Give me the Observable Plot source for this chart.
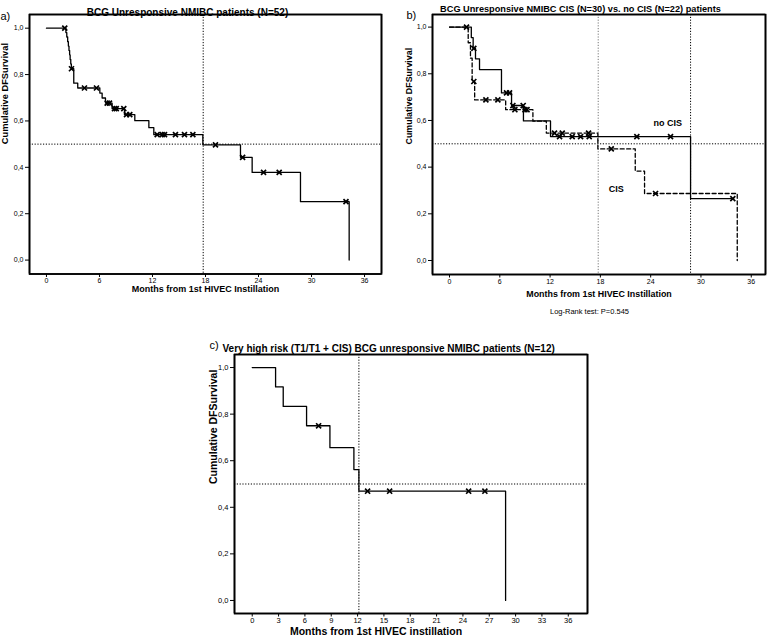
<!DOCTYPE html>
<html><head><meta charset="utf-8">
<script src="https://cdn.jsdelivr.net/npm/d3@7"></script>
<script src="https://cdn.jsdelivr.net/npm/@observablehq/plot@0.6"></script>
<style>
body{margin:0;background:#fff;font-family:"Liberation Sans",Arial,sans-serif;}
#root{position:relative;width:768px;height:640px;overflow:hidden;background:#fff;}
.holder{position:absolute;}
</style></head><body><div id="root"></div>
<script>
// ---------- data ----------
const yTicks = [0, 0.2, 0.4, 0.6, 0.8, 1.0];
const xTicksAB = [0, 6, 12, 18, 24, 30, 36];
const xTicksC = [0, 3, 6, 9, 12, 15, 18, 21, 24, 27, 30, 33, 36];
const refY = [0.5];

// Panel a: all patients (N=52)
const aTime = [0, 2.2, 2.3, 2.4, 2.48, 2.55, 2.62, 2.68, 2.75, 2.82, 3.09, 3.54, 6.04, 6.3, 6.68, 7.43, 8.83, 10.0, 11.59, 12.15, 17.7, 21.96, 23.28, 28.75, 34.26];
const aSurv = [1.0, 0.981, 0.962, 0.942, 0.923, 0.904, 0.885, 0.865, 0.846, 0.825, 0.763, 0.742, 0.72, 0.699, 0.677, 0.653, 0.627, 0.601, 0.571, 0.541, 0.497, 0.443, 0.378, 0.252, 0.0];
const aCensT = [2.07, 2.83, 4.3, 5.66, 6.87, 7.13, 7.7, 7.9, 8.75, 9.06, 9.43, 12.53, 13.1, 13.36, 14.6, 15.62, 16.57, 19.13, 22.2, 24.57, 26.34, 33.9];
const aCensS = [1.0, 0.825, 0.742, 0.742, 0.677, 0.677, 0.653, 0.653, 0.653, 0.627, 0.627, 0.541, 0.541, 0.541, 0.541, 0.541, 0.541, 0.497, 0.443, 0.378, 0.378, 0.252];
const aRefX = [17.74];

// Panel b: no CIS (solid, N=22)
const bNoTime = [0, 2.6, 2.82, 3.1, 3.58, 6.2, 7.4, 8.82, 12.05, 28.76, 33.9];
const bNoSurv = [1.0, 0.955, 0.909, 0.864, 0.818, 0.718, 0.664, 0.598, 0.531, 0.265, 0.265];
const bNoCensT = [2.03, 2.9, 6.8, 7.16, 7.56, 8.79, 13.13, 14.64, 15.64, 16.67, 22.35, 26.37, 33.8];
const bNoCensS = [1.0, 0.909, 0.718, 0.718, 0.664, 0.664, 0.531, 0.531, 0.531, 0.531, 0.531, 0.531, 0.265];
// Panel b: CIS (dashed, N=30)
const bCisTime = [0, 2.23, 2.5, 2.7, 3.0, 6.7, 9.95, 11.55, 17.7, 22.16, 23.27, 34.33];
const bCisSurv = [1.0, 0.933, 0.867, 0.767, 0.688, 0.646, 0.597, 0.546, 0.478, 0.383, 0.287, 0.0];
const bCisCensT = [2.9, 4.34, 5.77, 7.8, 9.0, 9.25, 12.53, 13.45, 16.59, 19.3, 24.58];
const bCisCensS = [0.767, 0.688, 0.688, 0.646, 0.646, 0.646, 0.546, 0.546, 0.546, 0.478, 0.287];
const bRefX = [17.74, 28.76];
const bLabelText = ["no CIS", "CIS"];
const bLabelT = [26.05, 19.9];
const bLabelS = [0.589, 0.304];

// Panel c: very high risk (N=12)
const cTime = [0, 2.66, 3.53, 6.19, 8.85, 11.58, 12.15, 28.86];
const cSurv = [1.0, 0.917, 0.833, 0.75, 0.656, 0.562, 0.469, 0.0];
const cCensT = [7.56, 13.14, 15.65, 24.65, 26.5];
const cCensS = [0.75, 0.469, 0.469, 0.469, 0.469];
const cRefX = [12.15];

// texts
const titles = ["BCG Unresponsive NMIBC patients (N=52)", "BCG Unresponsive NMIBC CIS (N=30) vs. no CIS (N=22) patients", "Very high risk (T1/T1 + CIS) BCG unresponsive NMIBC patients (N=12)"];
const tags = ["a)", "b)", "c)"];
const xLabels = ["Months from 1st HIVEC Instillation", "Months from 1st HIVEC Instillation", "Months from 1st HIVEC instillation"];
const yLabel = "Cumulative DFSurvival";
const logRank = "Log-Rank test: P=0.545";

// ---------- helpers ----------
const zip = (ts, ss) => ts.map((t, i) => ({t, s: ss[i]}));
const fmt = d => d.toFixed(1).replace(".", ",");
const root = document.getElementById("root");

function km(o) {
  const [x0, x1] = o.xDomain, [y0, y1] = o.yDomain;
  const fw = o.width - o.m[0] - o.m[1], fh = o.height - o.m[2] - o.m[3];
  const xTickLen = 3.5 * (y1 - y0) / fh;   // tick length (px) expressed in y units
  const yTickLen = 4 * (x1 - x0) / fw;     // tick length (px) expressed in x units
  const marks = [
    Plot.ruleY(refY, {stroke: "#000", strokeWidth: 1, strokeDasharray: "1.2,1.6"}),
    ...o.refX.map((v, i) => Plot.ruleX([v], {stroke: (o.refXColor || [])[i] || "#000", strokeWidth: 1, strokeDasharray: "1.2,1.6"})),
    ...o.series.map(s => Plot.line(s.pts, {x: "t", y: "s", curve: "step-after", stroke: "#000", strokeWidth: 1.3, strokeDasharray: s.dash})),
    ...o.series.map(s => Plot.dot(s.cens, {x: "t", y: "s", symbol: "times", r: 2.4, stroke: "#000", strokeWidth: 1.7})),
    // plot box drawn with rules along the domain edges
    Plot.ruleX([x0, x1], {stroke: "#000", strokeWidth: 1.6}),
    Plot.ruleY([y0, y1], {stroke: "#000", strokeWidth: 1.6}),
    Plot.frame({stroke: "#000", strokeWidth: 1.6}),
    // tick marks drawn as short rules outside the box
    Plot.ruleX(o.xTicks, {y1: y0, y2: y0 - xTickLen, stroke: "#000", strokeWidth: 1}),
    Plot.ruleY(yTicks, {x1: x0, x2: x0 - yTickLen, stroke: "#000", strokeWidth: 1}),
    Plot.axisX(o.xTicks, {tickSize: 0, tickPadding: 4.5, fontSize: o.tickFs, label: null, tickFormat: d => String(d)}),
    Plot.axisY(yTicks, {tickSize: 0, tickPadding: 6, fontSize: o.tickFs, label: null, tickFormat: fmt}),
    Plot.text([o.xLabel], {text: d => d, frameAnchor: "bottom", dy: o.xLabDy, dx: o.xLabDx || 0, fontWeight: "bold", fontSize: o.xLabFs}),
    Plot.text([yLabel], {text: d => d, frameAnchor: "left", rotate: -90, dx: o.yLabDx, fontWeight: "bold", fontSize: o.yLabFs}),
    Plot.text([o.tag], {text: d => d, frameAnchor: "top-left", textAnchor: "start", dx: o.tagDx, dy: o.tagDy, fontSize: 11}),
    Plot.text([o.title], {text: d => d, frameAnchor: o.titleAnchor, textAnchor: o.titleAlign, dx: o.titleDx, dy: o.titleDy, fontWeight: "bold", fontSize: o.titleFs}),
    ...(o.extra || [])
  ];
  const svg = Plot.plot({
    width: o.width, height: o.height,
    marginLeft: o.m[0], marginRight: o.m[1], marginTop: o.m[2], marginBottom: o.m[3],
    x: {domain: o.xDomain},
    y: {domain: o.yDomain},
    style: {fontFamily: "'Liberation Sans', Arial, sans-serif", fontSize: o.tickFs + "px"},
    marks
  });
  const h = document.createElement("div");
  h.className = "holder";
  h.style.left = o.left + "px";
  h.style.top = o.top + "px";
  h.style.width = o.width + "px";
  h.style.height = o.height + "px";
  h.appendChild(svg);
  root.appendChild(h);
}

// ---------- panel a ----------
km({
  left: 0, top: 0, width: 384, height: 300, m: [29, 3, 14, 26.5],
  xDomain: [-1.92, 37.92], yDomain: [-0.06, 1.059],
  xTicks: xTicksAB, tickFs: 7, xLabFs: 9, yLabFs: 9.3,
  refX: aRefX,
  series: [{pts: zip(aTime, aSurv), cens: zip(aCensT, aCensS)}],
  xLabel: xLabels[0], xLabDy: 18, yLabDx: -24,
  tag: tags[0], tagDx: -29, tagDy: -2,
  title: titles[0], titleAnchor: "top", titleAlign: "middle", titleDx: -18, titleDy: -6, titleFs: 10
});

// ---------- panel b ----------
km({
  left: 384, top: 0, width: 384, height: 320, m: [48, 3, 14, 46],
  xDomain: [-2.03, 37.7], yDomain: [-0.06, 1.054],
  xTicks: xTicksAB, tickFs: 7, xLabFs: 8.9, yLabFs: 8.9,
  refX: bRefX, refXColor: ["#777", "#000"],
  series: [
    {pts: zip(bNoTime, bNoSurv), cens: zip(bNoCensT, bNoCensS)},
    {pts: zip(bCisTime, bCisSurv), cens: zip(bCisCensT, bCisCensS), dash: "4,2.5"}
  ],
  xLabel: xLabels[1], xLabDy: 22, yLabDx: -23,
  tag: tags[1], tagDx: -26, tagDy: -3,
  title: titles[1], titleAnchor: "top", titleAlign: "middle", titleDx: -18.5, titleDy: -9, titleFs: 9.2,
  extra: [
    Plot.text(bLabelText.map((l, i) => ({l, t: bLabelT[i], s: bLabelS[i]})), {x: "t", y: "s", text: "l", fontWeight: "bold", fontSize: 9}),
    Plot.text([logRank], {text: d => d, frameAnchor: "bottom", dy: 39, dx: -9.5, fontSize: 7.5})
  ]
});

// ---------- panel c ----------
km({
  left: 195, top: 330, width: 400, height: 310, m: [39, 8, 24, 27],
  xDomain: [-2.02, 38.19], yDomain: [-0.056, 1.056],
  xTicks: xTicksC, tickFs: 7.5, xLabFs: 10.5, yLabFs: 10.5,
  refX: cRefX,
  series: [{pts: zip(cTime, cSurv), cens: zip(cCensT, cCensS)}],
  xLabel: xLabels[2], xLabDy: 21.5, xLabDx: -35, yLabDx: -21,
  tag: tags[2], tagDx: -25, tagDy: -13,
  title: titles[2], titleAnchor: "top-left", titleAlign: "start", titleDx: -12, titleDy: -10, titleFs: 10
});
</script>
</body></html>
